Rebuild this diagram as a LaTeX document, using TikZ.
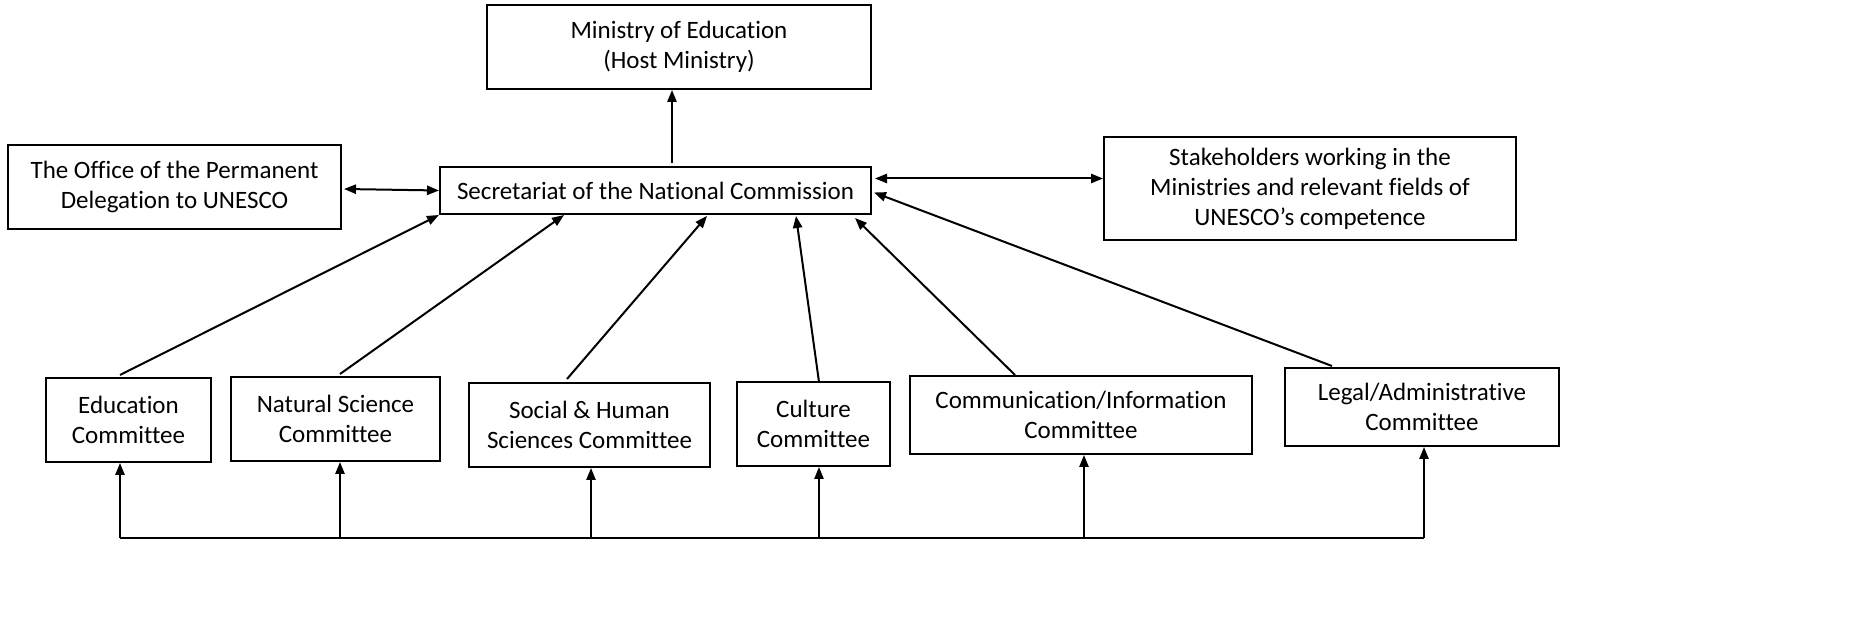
\documentclass[tikz,border=0pt]{standalone}
\usepackage{fontspec}
\setmainfont{Carlito}[Ligatures=CommonOff]
\usetikzlibrary{arrows.meta,calc}

\tikzstyle{orgbox} = [draw=black, line width=1pt, rectangle, align=center,
    inner sep=0pt, font=\fontsize{12.5}{15}\selectfont]
\tikzstyle{link} = [line width=1pt, -{Triangle[length=6pt,width=4.6pt]}]
\tikzstyle{twoway} = [line width=1pt, {Triangle[length=6pt,width=4.6pt]}-{Triangle[length=6pt,width=4.6pt]}]

\begin{document}
\begin{tikzpicture}[x=0.5pt,y=-0.5pt]
\useasboundingbox (0,0) rectangle (1857,640);

% top row
\node [orgbox, minimum width=192pt, minimum height=42pt] (ministry) at (679,47)
    {Ministry of Education\\(Host Ministry)};
\node [orgbox, minimum width=166.5pt, minimum height=42pt] (office) at (174.5,187)
    {The Office of the Permanent\\Delegation to UNESCO};
\node [orgbox, minimum width=215.5pt, minimum height=23.5pt] (secretariat) at (655.5,190.5)
    {Secretariat of the National Commission};
\node [orgbox, minimum width=206pt, minimum height=51.5pt] (stakeholders) at (1310,189)
    {Stakeholders working in the\\Ministries and relevant fields of\\UNESCO's competence};

% committees
\node [orgbox, minimum width=82.5pt, minimum height=42pt] (education) at (128.5,420)
    {Education\\Committee};
\node [orgbox, minimum width=104.5pt, minimum height=42pt] (natsci) at (335.5,419)
    {Natural Science\\Committee};
\node [orgbox, minimum width=120.5pt, minimum height=42pt] (social) at (589.5,425)
    {Social \& Human\\Sciences Committee};
\node [orgbox, minimum width=76.5pt, minimum height=42pt] (culture) at (813.5,424)
    {Culture\\Committee};
\node [orgbox, minimum width=171pt, minimum height=39pt] (commun) at (1081,415)
    {Communication/Information\\Committee};
\node [orgbox, minimum width=137pt, minimum height=39pt] (legal) at (1422,407)
    {Legal/Administrative\\Committee};

% links between the top boxes
\coordinate (up) at ($(secretariat.north)+(16.5,-3)$);
\draw [link] (up) -- (up |- ministry.south);
\draw [twoway] ($(office.east)+(2,2)$) -- (secretariat.west);
\coordinate (side) at ($(secretariat.east)+(3,-12)$);
\draw [twoway] (side) -- (side -| stakeholders.west);

% committees up to the secretariat
\draw [link] ($(education.north)+(-8.5,-2)$) -- (secretariat.south west);
\draw [link] ($(natsci.north)+(4.5,-2)$) -- ($(secretariat.south west)+(125,0)$);
\draw [link] ($(social.north)+(-22.5,-3)$) -- ($(secretariat.south west)+(268,1)$);
\draw [link] ($(culture.north)+(5.5,1)$) -- ($(secretariat.south west)+(357,1)$);
\draw [link] ($(commun.north)+(-66,0)$) -- ($(secretariat.south west)+(416,3)$);
\draw [link] ($(legal.north)+(-90,-1)$) -- ($(secretariat.east)+(2,2)$);

% bottom bus
\coordinate (b1) at (120,538);
\coordinate (b2) at (340,538);
\coordinate (b3) at (591,538);
\coordinate (b4) at (819,538);
\coordinate (b5) at (1084,538);
\coordinate (b6) at (1424,538);
\draw [line width=1pt] (b1) -- (b6);
\draw [link] (b1) -- (b1 |- education.south);
\draw [link] (b2) -- (b2 |- natsci.south);
\draw [link] (b3) -- (b3 |- social.south);
\draw [link] (b4) -- (b4 |- culture.south);
\draw [link] (b5) -- (b5 |- commun.south);
\draw [link] (b6) -- (b6 |- legal.south);
\end{tikzpicture}
\end{document}
